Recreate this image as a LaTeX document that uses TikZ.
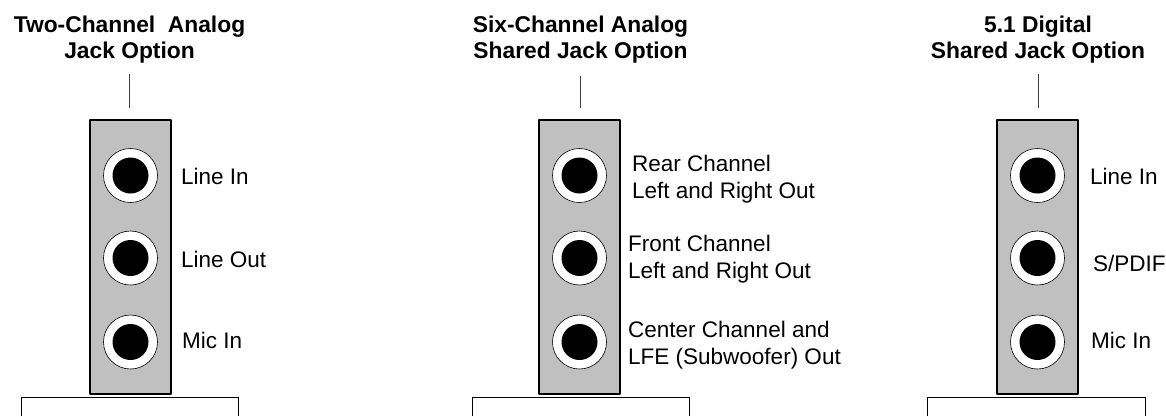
\documentclass[tikz,border=0pt]{standalone}
\usepackage{fontspec}
\setmainfont{Liberation Sans}
\definecolor{panelgray}{RGB}{192,192,192}

\begin{document}
\begin{tikzpicture}[x=1pt, y=-1pt,
    title/.style={font=\fontsize{22.8}{25.5}\selectfont\bfseries, align=center, inner sep=0pt, anchor=north},
    lbl/.style={font=\fontsize{22.5}{26.5}\selectfont, align=left, inner sep=0pt},
    plate/.style={draw, line width=2pt, fill=panelgray, line join=round, minimum width=81pt, minimum height=274pt, inner sep=0pt},
    jack/.style={circle, draw, fill=white, line width=0.6pt, minimum size=54pt, inner sep=0pt},
    stub/.style={draw=black!75, line width=0.8pt, shorten >=11pt},
    card/.style={draw, line width=0.8pt}]
    \useasboundingbox (0,0) rectangle (1166,416);

    % two-channel analog
    \node[title] (t1) at (129.5,16) {Two-Channel\ \ Analog\\Jack Option};
    \node[plate] (p1) at (130.5,257) {};
    \node[jack] (j1a) at (130.5,175.5) {};
    \node[jack] (j1b) at (130.5,258) {};
    \node[jack] (j1c) at (130.5,342) {};
    \fill (j1a) circle (18pt);
    \fill (j1b) circle (18pt);
    \fill (j1c) circle (18pt);
    \node[lbl, anchor=base west] (l1a) at (181,184) {Line In};
    \node[lbl, anchor=base west] (l1b) at (181,267) {Line Out};
    \node[lbl, anchor=base west] (l1c) at (182,348) {Mic In};
    \coordinate (s1) at (129.5,74);
    \draw[stub] (s1) -- (s1 |- p1.north);
    \coordinate (c1l) at (21,416);
    \coordinate (c1t) at (238,397);
    \coordinate (c1r) at (238,416);
    \draw[card] (c1l) |- (c1t) -- (c1r);

    % six-channel analog
    \node[title] (t2) at (580.5,16) {Six-Channel Analog\\Shared Jack Option};
    \node[plate] (p2) at (579.5,257) {};
    \node[jack] (j2a) at (579.5,175.5) {};
    \node[jack] (j2b) at (579.5,258) {};
    \node[jack] (j2c) at (579.5,342) {};
    \fill (j2a) circle (18pt);
    \fill (j2b) circle (18pt);
    \fill (j2c) circle (18pt);
    \node[lbl, anchor=north west] (l2a) at (632,155) {Rear Channel\\Left and Right Out};
    \node[lbl, anchor=north west] (l2b) at (628,235) {Front Channel\\Left and Right Out};
    \node[lbl, anchor=north west] (l2c) at (628,321) {Center Channel and\\LFE (Subwoofer) Out};
    \coordinate (s2) at (580.5,76);
    \draw[stub] (s2) -- (s2 |- p2.north);
    \coordinate (c2l) at (472,416);
    \coordinate (c2t) at (689,397);
    \coordinate (c2r) at (689,416);
    \draw[card] (c2l) |- (c2t) -- (c2r);

    % 5.1 digital
    \node[title] (t3) at (1038,16) {5.1 Digital\\Shared Jack Option};
    \node[plate] (p3) at (1037.5,257) {};
    \node[jack] (j3a) at (1037.5,175.5) {};
    \node[jack] (j3b) at (1037.5,258) {};
    \node[jack] (j3c) at (1037.5,342) {};
    \fill (j3a) circle (18pt);
    \fill (j3b) circle (18pt);
    \fill (j3c) circle (18pt);
    \node[lbl, anchor=base west] (l3a) at (1090,184) {Line In};
    \node[lbl, anchor=base west] (l3b) at (1093,271) {S/PDIF};
    \node[lbl, anchor=base west] (l3c) at (1091,348) {Mic In};
    \coordinate (s3) at (1038,74);
    \draw[stub] (s3) -- (s3 |- p3.north);
    \coordinate (c3l) at (927,416);
    \coordinate (c3t) at (1145,397);
    \coordinate (c3r) at (1145,416);
    \draw[card] (c3l) |- (c3t) -- (c3r);
\end{tikzpicture}
\end{document}
